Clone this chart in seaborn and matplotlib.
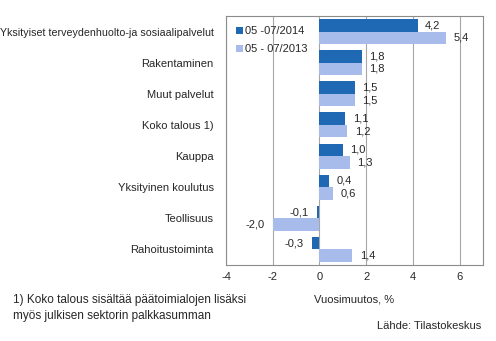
import matplotlib
matplotlib.use("Agg")
import matplotlib.pyplot as plt
import seaborn as sns
import pandas as pd

categories = ["Yksityiset terveydenhuolto-ja sosiaalipalvelut", "Rakentaminen", "Muut palvelut",
              "Koko talous 1)", "Kauppa", "Yksityinen koulutus", "Teollisuus", "Rahoitustoiminta"]
series_names = ["05 -07/2014", "05 - 07/2013"]
values_2014 = [4.2, 1.8, 1.5, 1.1, 1.0, 0.4, -0.1, -0.3]
values_2013 = [5.4, 1.8, 1.5, 1.2, 1.3, 0.6, -2.0, 1.4]
x_ticks = [-4, -2, 0, 2, 4, 6]
colors = ["#1F68B3", "#A7BCEA"]

sns.set_style("white")
plt.rcParams['font.family'] = ['Liberation Sans', 'DejaVu Sans']

df = pd.DataFrame({
    "cat": categories * 2,
    "val": values_2014 + values_2013,
    "series": [series_names[0]] * len(categories) + [series_names[1]] * len(categories),
})

fig = plt.figure(figsize=(4.96, 3.41), dpi=100)
ax = fig.add_axes([226/496, 1 - 265/341, (483-226)/496, (265-16)/341])
sns.barplot(data=df, y="cat", x="val", hue="series", orient="h", palette=colors,
            hue_order=series_names, order=categories, width=0.8, ax=ax, saturation=1,
            edgecolor="none", linewidth=0)

ax.set_xlim(-4, 7)
ax.set_xticks(x_ticks)
ax.set_xticklabels([str(t) if t >= 0 else "-" + str(-t) for t in x_ticks], fontsize=8)
ax.xaxis.grid(True, color="#A6A6A6", linewidth=0.8)
ax.yaxis.grid(False)
ax.set_axisbelow(True)
for s in ax.spines.values():
    s.set_color("#8C8C8C")
    s.set_linewidth(0.8)
ax.tick_params(axis="x", length=3, color="#8C8C8C", pad=2, labelsize=8)
ax.tick_params(axis="y", length=0, pad=9, labelsize=8)
ax.get_yticklabels()[0].set_fontsize(7.7)
ax.set_ylabel("")
ax.set_xlabel("Vuosimuutos, %", fontsize=8, labelpad=9)

for cont in ax.containers:
    for bar, v in zip(cont, cont.datavalues):
        y = bar.get_y() + bar.get_height() / 2
        txt = f"{v:.1f}".replace(".", ",")
        if v >= 0:
            ax.annotate(txt, (v, y), xytext=(5.5, 0), textcoords="offset points",
                        ha="left", va="center", fontsize=8)
        else:
            ax.annotate(txt, (v, y), xytext=(-6, 0), textcoords="offset points",
                        ha="right", va="center", fontsize=8)

leg = ax.legend(loc="upper left", bbox_to_anchor=(0.0, 1.0), frameon=False, fontsize=8,
                handlelength=0.6, handleheight=0.6, handletextpad=0.2, labelspacing=0.75,
                borderaxespad=0.5)

fig.text(13/496, 1 - 308/341, "1) Koko talous sisältää päätoimialojen lisäksi\nmyös julkisen sektorin palkkasumman",
         fontsize=8.5, va="center", ha="left", linespacing=1.45)
fig.text(481/496, 1 - 326/341, "Lähde: Tilastokeskus", fontsize=8, ha="right", va="center")

fig.savefig("out.png", dpi=100)
